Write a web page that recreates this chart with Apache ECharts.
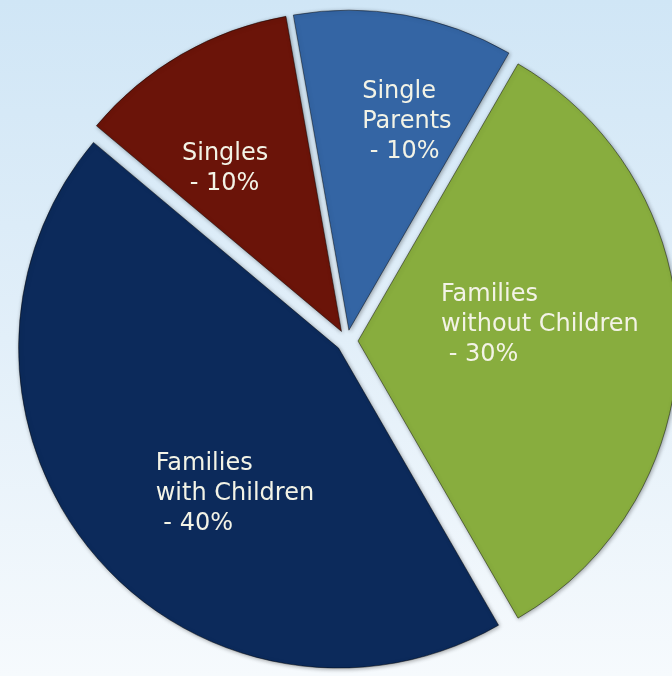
<!DOCTYPE html>
<html>
<head>
<meta charset="utf-8">
<script src="https://cdn.jsdelivr.net/npm/echarts@6/dist/echarts.min.js"></script>
<style>
  html, body { margin: 0; padding: 0; }
  #chart { width: 672px; height: 676px; }
</style>
</head>
<body>
<div id="chart"></div>
<script>
// Household composition shares, drawn as an exploded pie
const categories = ['Single Parents', 'Families without Children', 'Families with Children', 'Singles'];
const shares = [10, 30, 40, 10];

const sliceColors = {
  'Single Parents': '#3465a4',
  'Families without Children': '#88ad3e',
  'Families with Children': '#0c2a5b',
  'Singles': '#6b1409'
};

// Shift of each caption's left edge from the default inside anchor
const labelNudge = {
  'Single Parents': [-15, -48],
  'Families without Children': [-80, -16],
  'Families with Children': [-58, 41],
  'Singles': [-78, -22]
};

// Break the name after its first word so it wraps like a two-line caption
function wrapName(name) {
  const i = name.indexOf(' ');
  return i < 0 ? name : name.slice(0, i) + '\n' + name.slice(i + 1);
}

const pieData = categories.map((name, i) => ({
  name: name,
  value: shares[i],
  selected: true,
  itemStyle: { color: sliceColors[name] }
}));

const chart = echarts.init(document.getElementById('chart'), null, { renderer: 'canvas' });

chart.setOption({
  animation: false,
  backgroundColor: {
    type: 'linear', x: 0, y: 0, x2: 0, y2: 1,
    colorStops: [
      { offset: 0, color: '#d0e6f6' },
      { offset: 0.5, color: '#e2eff9' },
      { offset: 1, color: '#f6fafd' }
    ]
  },
  series: [{
    type: 'pie',
    center: [347, 341],
    radius: [0, 320],
    startAngle: 100,
    clockwise: true,
    selectedMode: 'multiple',
    selectedOffset: 11,
    avoidLabelOverlap: false,
    itemStyle: {
      borderColor: 'rgba(0,0,0,0.45)',
      borderWidth: 1,
      shadowBlur: 4,
      shadowColor: 'rgba(0,0,0,0.35)',
      shadowOffsetX: 1,
      shadowOffsetY: 1
    },
    select: {
      itemStyle: {
        borderColor: 'rgba(0,0,0,0.45)',
        borderWidth: 1
      }
    },
    emphasis: { disabled: true },
    label: {
      show: true,
      position: 'inside',
      color: '#f3f3e6',
      fontFamily: 'DejaVu Sans',
      fontSize: 24,
      lineHeight: 30,
      formatter: p => wrapName(p.name) + '\n - ' + p.value + '%'
    },
    labelLayout: function (params) {
      const nudge = labelNudge[categories[params.dataIndex]];
      return {
        align: 'left',
        verticalAlign: 'middle',
        dx: nudge[0],
        dy: nudge[1]
      };
    },
    labelLine: { show: false },
    data: pieData
  }]
});
</script>
</body>
</html>
